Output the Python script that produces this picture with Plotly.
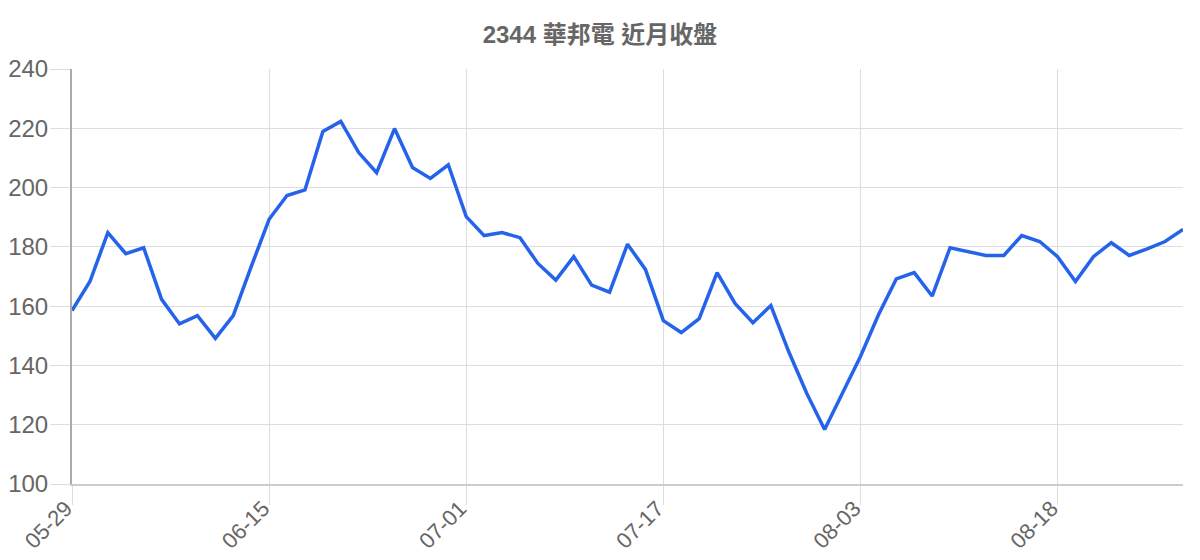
import plotly.graph_objects as go

dates = [
    "05-29", "05-30", "05-31", "06-03", "06-04", "06-05", "06-06", "06-07", "06-10", "06-11",
    "06-12", "06-15", "06-16", "06-17", "06-18", "06-19", "06-22", "06-23", "06-24", "06-25",
    "06-26", "06-29", "07-01", "07-02", "07-03", "07-04", "07-07", "07-08", "07-09", "07-10",
    "07-11", "07-14", "07-15", "07-17", "07-18", "07-21", "07-22", "07-23", "07-24", "07-25",
    "07-28", "07-29", "07-30", "07-31", "08-03", "08-04", "08-05", "08-06", "08-07", "08-08",
    "08-11", "08-12", "08-13", "08-14", "08-15", "08-18", "08-19", "08-20", "08-21", "08-22",
    "08-25", "08-26", "08-27",
]

close_prices = [
    158.5, 168.3, 184.8, 177.7, 179.7, 162.3, 154.0, 156.8, 149.1, 156.8,
    173.3, 189.3, 197.3, 199.2, 218.9, 222.3, 211.8, 205.0, 219.9, 206.8,
    203.1, 207.7, 190.2, 183.8, 184.8, 183.1, 174.4, 168.8, 176.7, 167.1,
    164.7, 180.9, 172.4, 155.1, 151.1, 155.8, 171.3, 160.9, 154.4, 160.2,
    144.6, 130.6, 118.4, 130.6, 143.0, 157.0, 169.2, 171.3, 163.4, 179.7,
    178.3, 177.1, 177.1, 183.8, 181.8, 176.7, 168.3, 176.7, 181.4, 177.1,
    179.3, 181.8, 185.9,
]

tick_dates = ["05-29", "06-15", "07-01", "07-17", "08-03", "08-18"]
y_ticks = [100, 120, 140, 160, 180, 200, 220, 240]

title_text = "2344 華邦電 近月收盤"

font_family = "Liberation Sans, Arial, Noto Sans CJK TC, sans-serif"
grid_color = "#dddddd"
text_color = "#666666"

fig_w, fig_h = 1200, 560

fig = go.Figure()
fig.add_trace(go.Scatter(
    x=dates,
    y=close_prices,
    mode="lines",
    line=dict(color="#2563eb", width=3.5),
    hoverinfo="x+y",
    showlegend=False,
))

fig.update_layout(
    width=fig_w,
    height=fig_h,
    margin=dict(l=72, r=17, t=69, b=76),
    paper_bgcolor="white",
    plot_bgcolor="white",
    font=dict(family=font_family, color=text_color),
    title=dict(
        text="<b>" + title_text + "</b>",
        x=0.5,
        xref="container",
        xanchor="center",
        y=1 - 35 / fig_h,
        yref="container",
        yanchor="middle",
        font=dict(size=24, color=text_color, family=font_family),
    ),
)

fig.update_xaxes(
    type="category",
    categoryorder="array",
    categoryarray=dates,
    range=[0, len(dates) - 1],
    tickmode="array",
    tickvals=tick_dates,
    ticktext=tick_dates,
    tickangle=-45,
    ticks="outside",
    ticklen=19,
    tickcolor=grid_color,
    tickwidth=1,
    showgrid=True,
    gridcolor=grid_color,
    gridwidth=1,
    showline=True,
    linecolor="#cccccc",
    linewidth=2,
    zeroline=False,
    automargin=False,
    ticklabelstandoff=-18,
    ticklabelshift=-6,
    tickfont=dict(size=22, color=text_color),
)

fig.update_yaxes(
    range=[100, 240],
    tickmode="array",
    tickvals=y_ticks,
    ticks="outside",
    ticklen=20,
    tickcolor=grid_color,
    tickwidth=1,
    showgrid=True,
    gridcolor=grid_color,
    gridwidth=1,
    showline=True,
    linecolor="#aaaaaa",
    linewidth=2,
    zeroline=False,
    automargin=False,
    ticklabelstandoff=-3,
    tickfont=dict(size=24, color=text_color),
)

fig.write_html(
    "out.html",
    config={"displayModeBar": False},
    post_script="document.body.style.margin='0px';document.body.style.overflow='hidden';",
)
